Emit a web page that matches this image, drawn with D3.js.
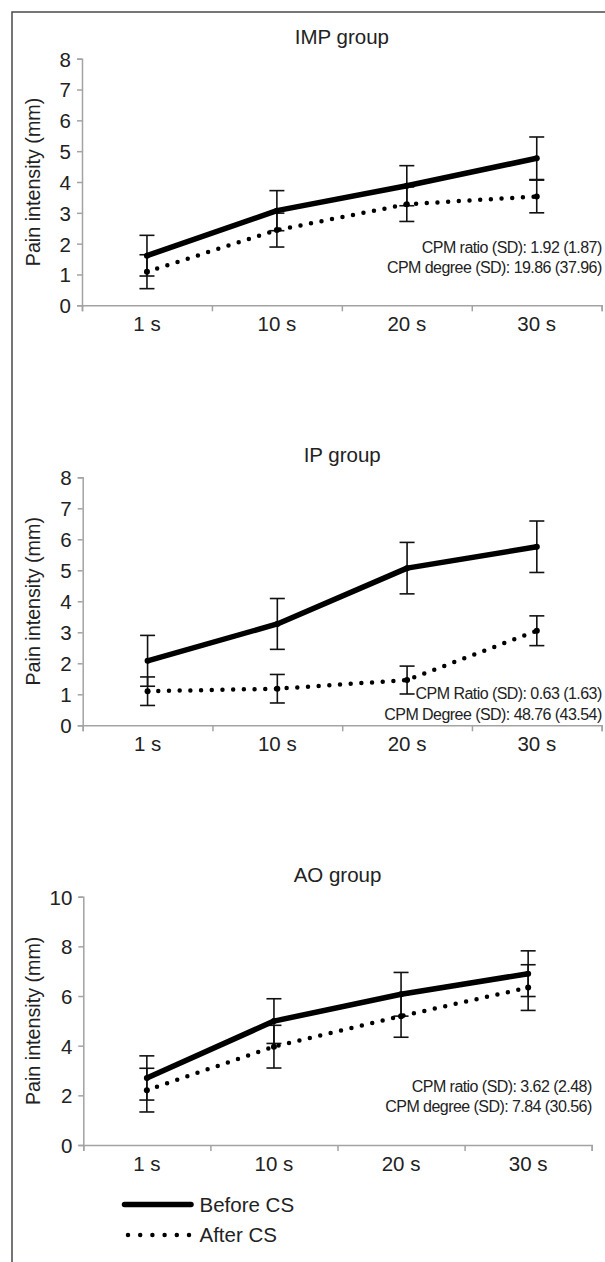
<!DOCTYPE html>
<html>
<head>
<meta charset="utf-8">
<script src="https://cdn.jsdelivr.net/npm/d3@7"></script>
<style>
  body { margin: 0; background: #fff; }
  svg text { font-family: "Liberation Sans", Arial, Helvetica, sans-serif; fill: #222; }
</style>
</head>
<body>
<script>
// values
var categories = ["1 s", "10 s", "20 s", "30 s"];

var impBefore   = [1.61, 3.07, 3.88, 4.77];
var impBeforeSD = [0.66, 0.65, 0.65, 0.69];
var impAfter    = [1.09, 2.44, 3.28, 3.53];
var impAfterSD  = [0.55, 0.55, 0.56, 0.53];

var ipBefore   = [2.08, 3.27, 5.07, 5.76];
var ipBeforeSD = [0.82, 0.82, 0.83, 0.83];
var ipAfter    = [1.10, 1.18, 1.46, 3.05];
var ipAfterSD  = [0.46, 0.46, 0.45, 0.48];

var aoBefore   = [2.70, 4.99, 6.07, 6.90];
var aoBeforeSD = [0.89, 0.90, 0.88, 0.92];
var aoAfter    = [2.21, 3.96, 5.19, 6.34];
var aoAfterSD  = [0.88, 0.86, 0.85, 0.92];

var ticks8  = [0, 1, 2, 3, 4, 5, 6, 7, 8];
var ticks10 = [0, 2, 4, 6, 8, 10];

var impNotes = ["CPM ratio (SD): 1.92 (1.87)", "CPM degree (SD): 19.86 (37.96)"];
var ipNotes  = ["CPM Ratio (SD): 0.63 (1.63)", "CPM Degree (SD): 48.76 (43.54)"];
var aoNotes  = ["CPM ratio (SD): 3.62 (2.48)", "CPM degree (SD): 7.84 (30.56)"];

var legendLabels = ["Before CS", "After CS"];

var width = 605, height = 1262;
var axisColor = "#a3a3a3";
var fontSize = 20.5;

var svg = d3.select("body")
	.append("svg")
		.attr("width", width)
		.attr("height", height);

svg.append("rect")
		.attr("x", 12)
		.attr("y", 12)
		.attr("width", 620)
		.attr("height", 1280)
		.attr("fill", "none")
		.attr("stroke", "#4a4a4a")
		.attr("stroke-width", 1.5);

var panels = [
	{ title: "IMP group", before: impBefore, beforeSD: impBeforeSD, after: impAfter, afterSD: impAfterSD,
	  ticks: ticks8, notes: impNotes, x0: 82, x1: 601.7, yTop: 58.7, yBot: 305.3, titleY: 36.7, notesY: [247.5, 267.5] },
	{ title: "IP group", before: ipBefore, beforeSD: ipBeforeSD, after: ipAfter, afterSD: ipAfterSD,
	  ticks: ticks8, notes: ipNotes, x0: 82.7, x1: 601.7, yTop: 477.3, yBot: 725.3, titleY: 455, notesY: [693, 714] },
	{ title: "AO group", before: aoBefore, beforeSD: aoBeforeSD, after: aoAfter, afterSD: aoAfterSD,
	  ticks: ticks10, notes: aoNotes, x0: 83.3, x1: 591.7, yTop: 896.7, yBot: 1145, titleY: 874.3, notesY: [1086, 1106.7] }
];

panels.forEach(drawPanel);

function drawPanel(p) {
	var g = svg.append("g");

	var x = d3.scaleBand()
			.domain(categories)
			.range([p.x0, p.x1]);
	var xEdge = d3.scaleLinear()
			.domain([0, categories.length])
			.range([p.x0, p.x1]);
	var y = d3.scaleLinear()
			.domain([0, d3.max(p.ticks)])
			.range([p.yBot, p.yTop]);
	var cx = function(d, i) { return x(categories[i]) + x.bandwidth() / 2; };

	// y axis
	var yAxis = g.append("g")
			.attr("transform", "translate(" + p.x0 + ",0)")
			.call(d3.axisLeft(y).tickValues(p.ticks).tickSize(5).tickPadding(6));
	styleAxis(yAxis);
	yAxis.selectAll("text").attr("dy", "0.36em");

	// x axis: boundary ticks + centred labels
	var xTicks = g.append("g")
			.attr("transform", "translate(0," + p.yBot + ")")
			.call(d3.axisBottom(xEdge).tickValues(d3.range(categories.length + 1)).tickSize(6).tickFormat(""));
	styleAxis(xTicks);
	var xLabels = g.append("g")
			.attr("transform", "translate(0," + p.yBot + ")")
			.call(d3.axisBottom(x).tickSize(0).tickPadding(11));
	xLabels.select(".domain").remove();
	styleAxis(xLabels);

	g.append("text")
			.attr("x", (p.x0 + p.x1) / 2)
			.attr("y", p.titleY)
			.attr("dy", "0.36em")
			.attr("text-anchor", "middle")
			.attr("font-size", fontSize)
			.text(p.title);

	g.append("text")
			.attr("transform", "translate(33," + ((p.yTop + p.yBot) / 2) + ") rotate(-90)")
			.attr("dy", "0.36em")
			.attr("text-anchor", "middle")
			.attr("font-size", fontSize - 0.8)
			.text("Pain intensity (mm)");

	// error bars
	[[p.before, p.beforeSD], [p.after, p.afterSD]].forEach(function(s) {
		var bars = g.append("g")
				.attr("stroke", "#111")
				.attr("stroke-width", 1.6)
			.selectAll("g")
				.data(s[0])
			.enter()
			.append("g");
		bars.append("line")
				.attr("x1", cx).attr("x2", cx)
				.attr("y1", function(d, i) { return y(d + s[1][i]); })
				.attr("y2", function(d, i) { return y(d - s[1][i]); });
		bars.append("line")
				.attr("x1", function(d, i) { return cx(d, i) - 7.5; })
				.attr("x2", function(d, i) { return cx(d, i) + 7.5; })
				.attr("y1", function(d, i) { return y(d + s[1][i]); })
				.attr("y2", function(d, i) { return y(d + s[1][i]); });
		bars.append("line")
				.attr("x1", function(d, i) { return cx(d, i) - 7.5; })
				.attr("x2", function(d, i) { return cx(d, i) + 7.5; })
				.attr("y1", function(d, i) { return y(d - s[1][i]); })
				.attr("y2", function(d, i) { return y(d - s[1][i]); });
	});

	var line = d3.line()
			.x(cx)
			.y(function(d) { return y(d); });

	g.append("path")
			.datum(p.before)
			.attr("d", line)
			.attr("fill", "none")
			.attr("stroke", "#000")
			.attr("stroke-width", 5.5)
			.attr("stroke-linejoin", "round");

	g.append("path")
			.datum(p.after)
			.attr("d", line)
			.attr("fill", "none")
			.attr("stroke", "#000")
			.attr("stroke-width", 4.5)
			.attr("stroke-linecap", "round")
			.attr("stroke-dasharray", "0 10.7");

	[p.before, p.after].forEach(function(s) {
		g.append("g")
			.selectAll("circle")
				.data(s)
			.enter()
			.append("circle")
				.attr("cx", cx)
				.attr("cy", function(d) { return y(d); })
				.attr("r", 3)
				.attr("fill", "#000");
	});

	g.selectAll("text.note")
			.data(p.notes)
		.enter()
		.append("text")
			.attr("class", "note")
			.attr("x", p.x1)
			.attr("y", function(d, i) { return p.notesY[i]; })
			.attr("dy", "0.36em")
			.attr("text-anchor", "end")
			.attr("font-size", 16)
			.attr("letter-spacing", -0.55)
			.text(function(d) { return d; });
}

function styleAxis(a) {
	a.attr("font-size", fontSize).attr("font-family", null);
	a.select(".domain").attr("stroke", axisColor).attr("stroke-width", 1.5);
	a.selectAll(".tick line").attr("stroke", axisColor).attr("stroke-width", 1.5);
	a.selectAll("text").attr("fill", "#222");
}

// legend
var legendY = [1204.5, 1235];
var legend = svg.append("g");
legend.append("line")
		.attr("x1", 124.5).attr("x2", 191)
		.attr("y1", legendY[0]).attr("y2", legendY[0])
		.attr("stroke", "#000")
		.attr("stroke-width", 5.5)
		.attr("stroke-linecap", "round");
legend.append("line")
		.attr("x1", 128).attr("x2", 189)
		.attr("y1", legendY[1]).attr("y2", legendY[1])
		.attr("stroke", "#000")
		.attr("stroke-width", 4.5)
		.attr("stroke-linecap", "round")
		.attr("stroke-dasharray", "0 12.2");
legend.selectAll("text")
		.data(legendLabels)
	.enter()
	.append("text")
		.attr("x", 199.5)
		.attr("y", function(d, i) { return legendY[i]; })
		.attr("dy", "0.36em")
		.attr("font-size", fontSize)
		.text(function(d) { return d; });
</script>
</body>
</html>
